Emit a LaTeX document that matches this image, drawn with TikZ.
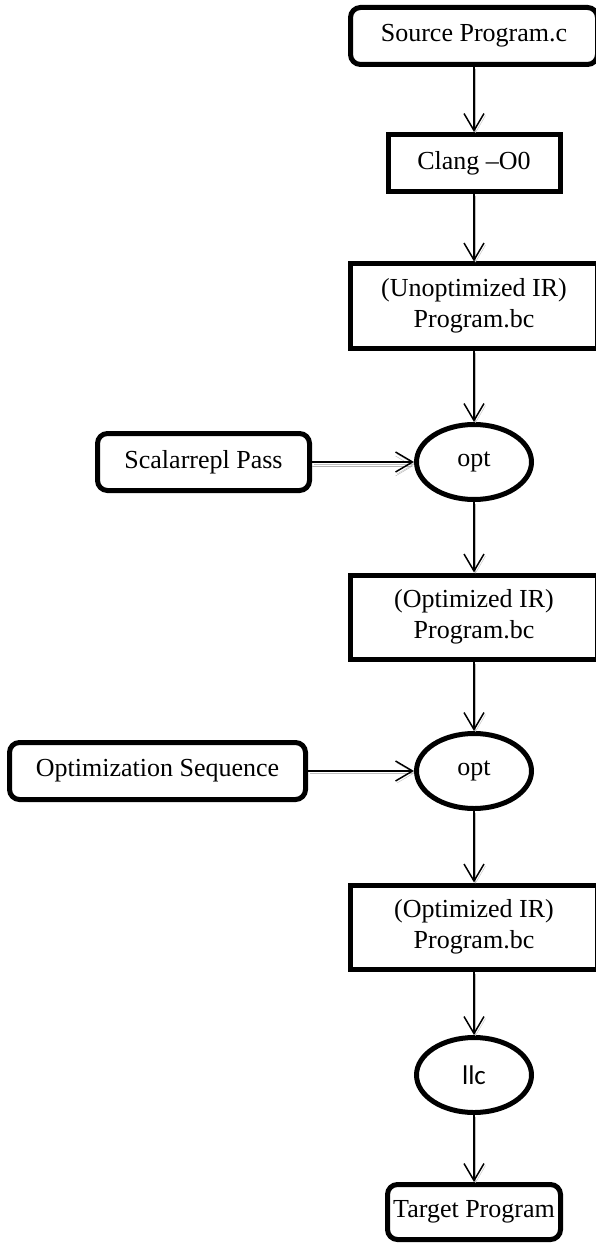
\documentclass[tikz,border=0pt]{standalone}
\usepackage{fontspec}
\setmainfont{Liberation Serif}
\newfontfamily\llcfont{Carlito}
\usetikzlibrary{arrows.meta, shapes.geometric}
\tikzset{
    passbox/.style={draw, line width=5pt, rounded corners=10pt, minimum height=57pt, inner sep=0pt},
    irbox/.style={draw, line width=5pt, minimum width=247pt, minimum height=84pt, align=center, inner sep=0pt},
    tool/.style={ellipse, draw, line width=5pt, minimum width=115pt, minimum height=75pt, inner sep=0pt},
    flow/.style={line width=1.5pt, -{Straight Barb[length=17pt, width=20pt, line width=1.5pt]},
        preaction={draw=black!25, transform canvas={shift={(1.5pt,-2pt)}}}},
    feed/.style={flow, preaction={draw=black!30, transform canvas={shift={(0pt,-4pt)}}}}
}
\begin{document}
\begin{tikzpicture}[x=1pt, y=-1pt, font=\fontsize{26}{31}\selectfont]
    \useasboundingbox (0,0) rectangle (596,1246);
    % main column
    \node[passbox, minimum width=247pt] (src) at (474,36) {Source Program.c};
    \node[passbox, rounded corners=0pt, minimum width=172pt] (clang) at (474,163) {Clang –O0};
    \node[irbox] (unopt) at (474,306) {(Unoptimized IR)\\Program.bc};
    \node[tool] (opt1) at (474,462) {opt};
    \node[irbox] (optir1) at (474,617) {(Optimized IR)\\Program.bc};
    \node[tool] (opt2) at (474,771) {opt};
    \node[irbox] (optir2) at (474,927) {(Optimized IR)\\Program.bc};
    \node[tool] (llc) at (474,1075) {\llcfont\fontsize{27}{31}\selectfont llc};
    \node[passbox, minimum width=173pt, minimum height=55pt] (target) at (474,1212) {Target Program};
    % passes fed into opt
    \node[passbox, minimum width=212pt] (scalar) at (203.5,462) {Scalarrepl Pass};
    \node[passbox, minimum width=296pt] (seq) at (157.5,771) {Optimization Sequence};

    \draw[flow] (src) -- (clang);
    \draw[flow] (clang) -- (unopt);
    \draw[flow] (unopt) -- (opt1);
    \draw[flow] (opt1) -- (optir1);
    \draw[flow] (optir1) -- (opt2);
    \draw[flow] (opt2) -- (optir2);
    \draw[flow] (optir2) -- (llc);
    \draw[flow] (llc) -- (target);
    \draw[feed] (scalar) -- (opt1);
    \draw[flow] (seq) -- (opt2);
\end{tikzpicture}
\end{document}
